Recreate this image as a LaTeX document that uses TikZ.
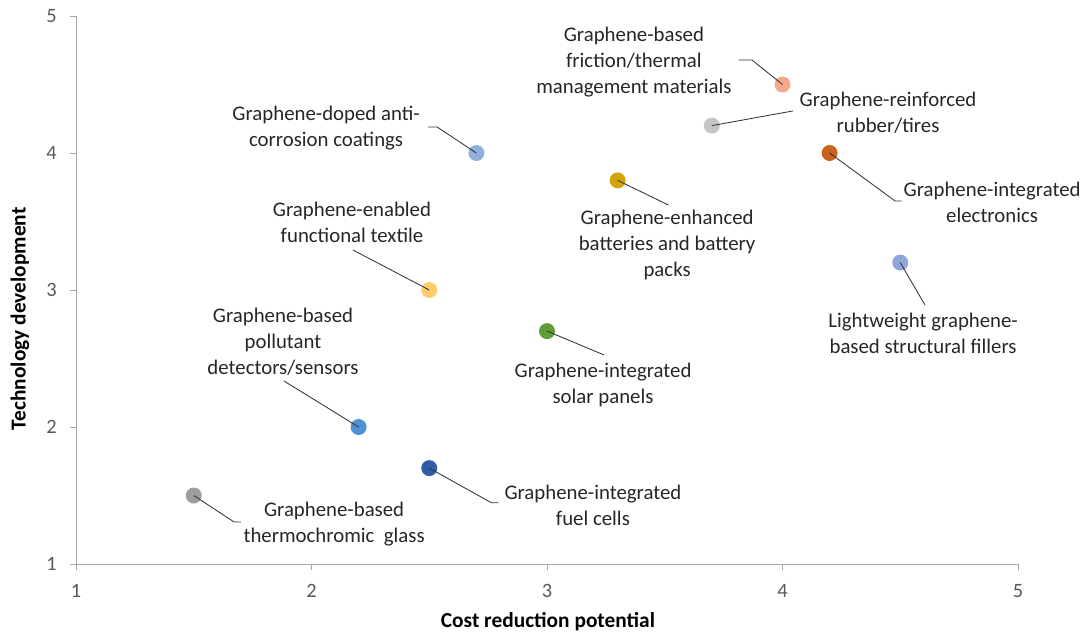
\documentclass[tikz,border=0pt]{standalone}
\usepackage{fontspec}
\setmainfont{Carlito}
\usepackage{tikz}

\definecolor{axisgray}{HTML}{A6A6A6}
\definecolor{ticktext}{HTML}{595959}
\definecolor{cthermo}{HTML}{9E9E9E}
\definecolor{cfuel}{HTML}{2F5DA8}
\definecolor{csensor}{HTML}{4C92D0}
\definecolor{csolar}{HTML}{5E9E37}
\definecolor{ctextile}{HTML}{FFCC70}
\definecolor{ccoating}{HTML}{8EB1DE}
\definecolor{cbattery}{HTML}{D4A50A}
\definecolor{cfriction}{HTML}{F3AA8C}
\definecolor{crubber}{HTML}{C4C4C4}
\definecolor{celectro}{HTML}{C9621C}
\definecolor{cfiller}{HTML}{8EA6DB}

\begin{document}
\begin{tikzpicture}[x=5.8875cm, y=3.425cm,
  dot/.style={circle, inner sep=0pt, minimum size=0.4cm},
  lbl/.style={align=center, text=black!85, font=\fontsize{14.8}{18.5}\selectfont},
  ticklbl/.style={inner sep=0pt, text=ticktext, font=\fontsize{14.5}{16}\selectfont},
  leader/.style={draw=black!80, line width=0.6pt}]
  \useasboundingbox (0.6773,0.4818) rectangle (5.2760,5.1168);

  \coordinate (O) at (1,1);
  \def\tk{0.15cm} % tick length

  % axes
  \draw[axisgray] (1,5) -- (O) -- (5,1);
  \foreach \i in {1,...,5} {
    \draw[axisgray] (\i,1) -- ++(0,-\tk);
    \draw[axisgray] (1,\i) -- ++(-\tk,0);
    \node[ticklbl] (xt\i) at (\i,0.803) {\i};
    \node[ticklbl, anchor=east] (yt\i) at (0.919,\i) {\i};
  }
  \node[font=\fontsize{15.2}{17}\selectfont\bfseries] (xtitle) at (3.004,0.577) {Cost reduction potential};
  \node[font=\fontsize{15.2}{17}\selectfont\bfseries, rotate=90] (ytitle) at (0.762,2.79) {Technology development};

  % data points
  \node[dot, fill=cthermo] (thermo) at (1.5,1.5) {};
  \node[dot, fill=cfuel] (fuel) at (2.5,1.7) {};
  \node[dot, fill=csensor] (sensor) at (2.2,2.0) {};
  \node[dot, fill=csolar] (solar) at (3.0,2.7) {};
  \node[dot, fill=ctextile] (textile) at (2.5,3.0) {};
  \node[dot, fill=ccoating] (coating) at (2.7,4.0) {};
  \node[dot, fill=cbattery] (battery) at (3.3,3.8) {};
  \node[dot, fill=cfriction] (friction) at (4.0,4.5) {};
  \node[dot, fill=crubber] (rubber) at (3.7,4.2) {};
  \node[dot, fill=celectro] (electro) at (4.2,4.0) {};
  \node[dot, fill=cfiller] (filler) at (4.5,3.2) {};

  % labels
  \node[lbl] (lthermo) at (2.096,1.288) {Graphene-based\\thermochromic\ \ glass};
  \node[lbl] (lfuel) at (3.195,1.431) {Graphene-integrated\\fuel cells};
  \node[lbl] (lsensor) at (1.879,2.620) {Graphene-based\\pollutant\\detectors/sensors};
  \node[lbl] (lsolar) at (3.238,2.307) {Graphene-integrated\\solar panels};
  \node[lbl] (ltextile) at (2.172,3.496) {Graphene-enabled\\functional textile};
  \node[lbl] (lcoating) at (2.062,4.182) {Graphene-doped anti-\\corrosion coatings};
  \node[lbl] (lbattery) at (3.510,3.328) {Graphene-enhanced\\batteries and battery\\packs};
  \node[lbl] (lfriction) at (3.369,4.664) {Graphene-based\\friction/thermal\\management materials};
  \node[lbl] (lrubber) at (4.448,4.292) {Graphene-reinforced\\rubber/tires};
  \node[lbl] (lelectro) at (4.890,3.642) {Graphene-integrated\\electronics};
  \node[lbl] (lfiller) at (4.597,2.686) {Lightweight graphene-\\based structural fillers};

  % leader line ends
  \coordinate (bthermo) at (1.671,1.307);
  \coordinate (ethermo) at (1.701,1.307);
  \coordinate (bfuel) at (2.764,1.447);
  \coordinate (efuel) at (2.794,1.447);
  \coordinate (esensor) at (1.883,2.336);
  \coordinate (esolar) at (3.242,2.526);
  \coordinate (etextile) at (2.176,3.292);
  \coordinate (bcoating) at (2.533,4.190);
  \coordinate (ecoating) at (2.495,4.190);
  \coordinate (ebattery) at (3.516,3.620);
  \coordinate (bfriction) at (3.870,4.679);
  \coordinate (efriction) at (3.815,4.679);
  \coordinate (erubber) at (4.045,4.307);
  \coordinate (belectro) at (4.478,3.650);
  \coordinate (eelectro) at (4.506,3.650);
  \coordinate (efiller) at (4.605,2.891);

  % leader lines
  \draw[leader] (thermo.center) -- (bthermo) -- (ethermo);
  \draw[leader] (fuel.center) -- (bfuel) -- (efuel);
  \draw[leader] (sensor.center) -- (esensor);
  \draw[leader] (solar.center) -- (esolar);
  \draw[leader] (textile.center) -- (etextile);
  \draw[leader] (coating.center) -- (bcoating) -- (ecoating);
  \draw[leader] (battery.center) -- (ebattery);
  \draw[leader] (friction.center) -- (bfriction) -- (efriction);
  \draw[leader] (rubber.center) -- (erubber);
  \draw[leader] (electro.center) -- (belectro) -- (eelectro);
  \draw[leader] (filler.center) -- (efiller);
\end{tikzpicture}
\end{document}
